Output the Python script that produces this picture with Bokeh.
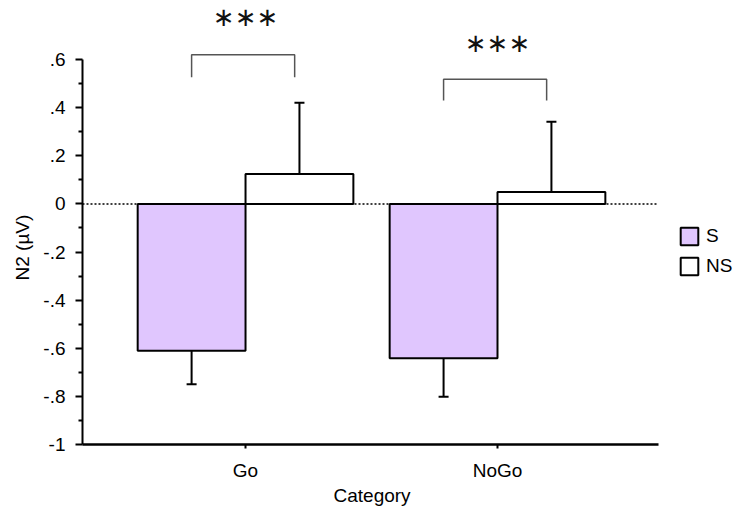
from bokeh.plotting import figure
from bokeh.models import (Range1d, FixedTicker, LinearAxis, Whisker, TeeHead, Title,
                          ColumnDataSource, Legend, LegendItem)
from bokeh.core.properties import value
from bokeh.embed import file_html
from bokeh.resources import INLINE

# ---- data ----
categories = ["Go", "NoGo"]
groups = ["S", "NS"]
s_means = [-0.61, -0.642]
s_err = [0.14, 0.16]
ns_means = [0.124, 0.05]
ns_err = [0.296, 0.292]
y_ticks = [-1.0, -0.8, -0.6, -0.4, -0.2, 0.0, 0.2, 0.4, 0.6]
y_tick_labels = ["-1", "-.8", "-.6", "-.4", "-.2", "0", ".2", ".4", ".6"]
y_minor = [-0.9, -0.7, -0.5, -0.3, -0.1, 0.1, 0.3, 0.5]
sig_labels = ["***", "***"]
bracket_top = [0.62, 0.518]
bracket_bottom = [0.526, 0.43]
sig_y = [0.777, 0.667]

FONT = "Liberation Sans"
FS = "19px"
S_COLOR = "#E0C6FE"
BAR_W = 0.428
OFF = BAR_W / 2
X_LO, X_HI = 0.353, 2.639   # extent of the category axis

pos = [i + 1 for i in range(len(categories))]

p = figure(width=752, height=513, output_backend="svg", toolbar_location=None,
           x_range=Range1d(X_LO, 3.012), y_range=Range1d(-1.0, 0.8455),
           min_border_left=82, min_border_right=0, min_border_top=0, min_border_bottom=69,
           x_axis_type=None, y_axis_type=None)
p.outline_line_color = None
p.xgrid.visible = False
p.ygrid.visible = False
p.background_fill_color = "white"
p.border_fill_color = "white"

# zero reference line (dotted) across the category axis extent
p.segment(x0=[X_LO], x1=[X_HI], y0=[0], y1=[0], line_color="black",
          line_width=1.5, line_dash="2 2")

# bars
src_s = ColumnDataSource(dict(x=[q - OFF for q in pos], top=s_means,
                              lo=[m - e for m, e in zip(s_means, s_err)], hi=s_means))
src_ns = ColumnDataSource(dict(x=[q + OFF for q in pos], top=ns_means,
                               lo=ns_means, hi=[m + e for m, e in zip(ns_means, ns_err)]))

r_s = p.vbar(x="x", top="top", bottom=0, width=BAR_W, source=src_s,
             fill_color=S_COLOR, line_color="black", line_width=2)
r_ns = p.vbar(x="x", top="top", bottom=0, width=BAR_W, source=src_ns,
              fill_color="white", line_color="black", line_width=2)

# one-sided error bars
w_s = Whisker(source=src_s, base="x", lower="lo", upper="hi", line_width=2, line_color="black",
              upper_head=None, lower_head=TeeHead(size=10, line_width=2, line_color="black"))
w_ns = Whisker(source=src_ns, base="x", lower="lo", upper="hi", line_width=2, line_color="black",
               lower_head=None, upper_head=TeeHead(size=10, line_width=2, line_color="black"))
p.add_layout(w_s)
p.add_layout(w_ns)

# significance brackets
bx = [[q - OFF, q - OFF, q + 0.195, q + 0.195] for q in pos]
by = [[b, t, t, b] for t, b in zip(bracket_top, bracket_bottom)]
p.multi_line(xs=bx, ys=by, line_color="#555555", line_width=1.5)
p.text(x=pos, y=sig_y, text=[s.replace("*", "\u2217") for s in sig_labels],
       text_font=value("DejaVu Sans"), text_font_size="26px", text_align="center",
       text_baseline="middle", text_color="#111111")

# axes
def style_axis(ax):
    ax.axis_line_color = "black"
    ax.major_tick_line_color = "black"
    ax.minor_tick_line_color = "black"
    ax.major_label_text_color = "black"
    ax.major_label_text_font = FONT
    ax.major_label_text_font_size = FS

yaxis = LinearAxis(ticker=FixedTicker(ticks=y_ticks, minor_ticks=y_minor), bounds=(-1.0, 0.6))
yaxis.major_label_overrides = {t: l for t, l in zip(y_ticks, y_tick_labels)}
style_axis(yaxis)
yaxis.axis_line_width = 2
yaxis.major_tick_line_width = 2
yaxis.minor_tick_line_width = 2
yaxis.major_tick_out = 7
yaxis.major_tick_in = 0
yaxis.minor_tick_out = 4
yaxis.minor_tick_in = 0
yaxis.major_label_standoff = 10
p.add_layout(yaxis, "left")

xaxis = LinearAxis(ticker=FixedTicker(ticks=pos, minor_ticks=[]), bounds=(X_LO, X_HI))
xaxis.major_label_overrides = {q: c for q, c in zip(pos, categories)}
style_axis(xaxis)
xaxis.axis_line_width = 2.5
xaxis.major_tick_line_width = 2
xaxis.major_tick_out = 4
xaxis.major_tick_in = 0
xaxis.minor_tick_out = 0
xaxis.major_label_standoff = 11
p.add_layout(xaxis, "below")

# axis titles (placed as titles so that they centre on the drawn axis extents)
ytitle = Title(text="N2 (\u00b5V)", align="left", offset=164, vertical_align="middle",
               text_font=FONT, text_font_size=FS, text_font_style="normal",
               text_color="black", standoff=14)
p.add_layout(ytitle, "left")
xtitle = Title(text="Category", align="left", offset=251, vertical_align="top",
               text_font=FONT, text_font_size=FS, text_font_style="normal",
               text_color="black", standoff=2)
p.add_layout(xtitle, "below")

# legend
legend = Legend(items=[LegendItem(label=groups[0], renderers=[r_s]),
                       LegendItem(label=groups[1], renderers=[r_ns])],
                location=(596, 167), padding=0, margin=0, spacing=8,
                glyph_width=22, glyph_height=22, label_standoff=6,
                label_text_font=FONT, label_text_font_size=FS,
                label_text_color="black",
                border_line_color=None, background_fill_alpha=0)
p.add_layout(legend, "center")

open("out.html", "w").write(file_html(p, INLINE))
